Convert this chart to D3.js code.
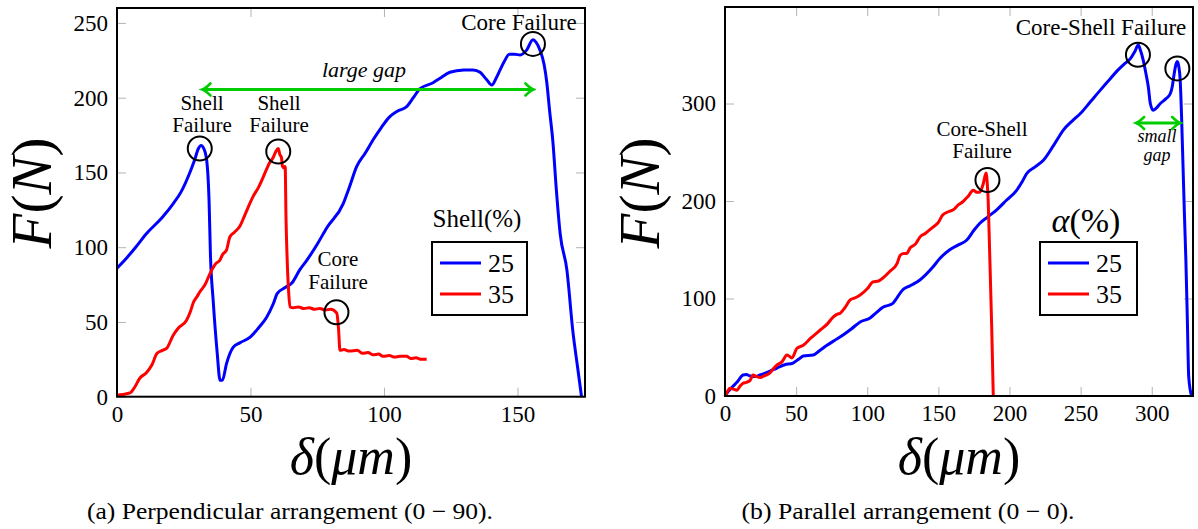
<!DOCTYPE html>
<html>
<head>
<meta charset="utf-8">
<script src="https://cdn.jsdelivr.net/npm/d3@7"></script>
<style>
body { margin: 0; background: #fff; }
text { font-family: "Liberation Serif", serif; }
</style>
</head>
<body>
<svg id="chart" width="1198" height="529"></svg>
<script>
// (a) perpendicular arrangement, Shell(%)
var perpTicksX = [0, 50, 100, 150];
var perpTicksY = [0, 50, 100, 150, 200, 250];
var perpLegend = ["25", "35"];
var perpShell25 = [[0,86],[3.7,93],[7,100],[11,109],[17,120],[21,129],[24,137],[27.3,150],[29,158],[30.5,166],[31.5,168],[32.5,166],[33.6,158],
	[34.5,130],[35,95],[36,65],[37.5,30],[38.6,11],[39.5,11],[41,22],[43.5,33],[46,36],[50,40],[53,46],[56,53],[58.5,62],[60,69],[63,73],
	[65.5,76],[68.5,85],[71,91],[75,102],[78.6,113],[84.7,129],[87,140],[89.8,154],[93,163],[96,172],[99,180],[102,187],[105,191],[108.5,194],
	[111,200],[113.5,206],[118.4,210],[121,213],[124.7,217],[130,218.5],[133.4,218.6],[136,217],[138.5,212],[140.4,208.5],[142,213],[143.5,218.6],
	[145,224],[147,229],[149,229],[151,228.6],[153.5,232],[155.8,238.7],[157,237],[158.4,232],[160,222],[161,210],[162,192],[163.3,170],
	[164.5,140],[166,109],[168.5,85],[170.8,43],[172.5,20],[174,0]];
var perpShell35 = [[0,1],[2,1.5],[4.9,2.5],[6.5,6],[8.6,12.5],[11,16],[13,21],[15,29],[17,31],[18.7,32.6],[21,41],[23,46],[26,51],[27.5,57],
	[28.6,63],[30,67],[31,70],[33,75],[35,83],[37,89],[38.6,91.5],[39.5,95],[41,98],[42.3,107],[44,110],[46,114],[48,122],[51,134],[53,140],
	[56,152],[57,156],[58.5,160],[59.5,164],[60.4,166],[61,162],[61.6,160],[62,154],[62.5,153],[63,154],[63.3,120],[63.7,94],[64.3,70],
	[64.8,60],[66,59.5],[68,60],[70,59],[72,59.5],[74,58.5],[76,59],[78,58],[80,58.5],[82.3,56],[83,45],[83.5,31],[85,31.5],[87,30.5],
	[90,31],[92,29],[94,29.5],[96,28],[98,28.5],[99.6,27],[102,27.5],[104,26.5],[106,27],[108.5,27],[110,25.5],[112,26],[114,25],[116,25]];

// (b) parallel arrangement, alpha(%)
var paraTicksX = [0, 50, 100, 150, 200, 250, 300];
var paraTicksY = [0, 100, 200, 300];
var paraLegend = ["25", "35"];
var paraAlpha25 = [[0,0],[1.4,3],[5,9],[8.4,14],[12.7,21.5],[15,22],[17.6,20.5],[21,20],[24.6,21.5],[30,24.5],[36.6,28.7],[42,32],[47.8,33.8],
	[52,38],[55,41],[62,42],[66,46],[71.7,52],[77,57],[83,62.6],[89,69],[95,76],[102,80],[106,85],[111,91],[118,95],[121,101],[125,109],
	[130,113],[137,119],[146,132],[151,141],[158,150],[164,155],[170,160],[175,170],[179,177],[185,184],[191,191],[198,201],[205,211],
	[209,220],[212,228],[218,235],[224,242],[231,257],[238,273],[244,282],[250,290],[257,302],[264,314],[270,324],[276,334],[281,341],
	[285,346],[288,353],[290.5,360],[292,355],[294,344.6],[296,330],[297.6,317],[299,300],[301,293],[303,295],[306,300],[310,305],[313,310],
	[314.5,318],[315.5,328],[317,340],[318,343],[319,338],[320,324],[321,285],[322,235],[323,185],[324,139],[325,80],[326,19.5],[328,0]];
var paraAlpha35 = [[0,0],[1.5,4],[3.5,8],[6,7],[8.4,6],[10.5,10],[12.7,13],[15,14],[17.6,16],[19.7,21.5],[22,20],[24.6,19],[28,21],[31.6,23.6],
	[34,28],[36.6,31.8],[40,35],[43.6,42],[45,41],[47,39],[50.6,49],[55,52],[60,59],[67,67.7],[72,74],[76,81],[79,84],[81,85],[84,90],
	[88,98.5],[92,101],[95,103.6],[100,110],[104,117],[108,118],[111,121],[116,128],[121,136],[123,144],[125,146],[128,146.5],[130,151.6],
	[134,156],[137,163],[141,167],[146,173],[150,178],[153,185.6],[157,189],[160.5,191],[164,196],[167,199],[171,205],[174.5,211],[177,209],
	[179,209],[181.6,218],[183.5,228.7],[184.5,215],[185,201],[186,150],[187.5,70],[188.6,0]];

var BLUE = "#0000ff", RED = "#ff0000", GREEN = "#00cc00";
var FONT = "Liberation Serif";

var svg = d3.select("#chart").attr("font-family", FONT);

// curved "to" arrow tip
var defs = svg.append("defs");
defs.append("marker")
	.attr("id", "tip")
	.attr("viewBox", "-10 -8 14 16")
	.attr("markerWidth", 14).attr("markerHeight", 16)
	.attr("markerUnits", "userSpaceOnUse")
	.attr("refX", 1).attr("refY", 0)
	.attr("orient", "auto-start-reverse")
	.append("path")
	.attr("d", "M-7,-6 Q-2,-1 1,0 Q-2,1 -7,6")
	.attr("fill", "none").attr("stroke", GREEN).attr("stroke-width", 2.6).attr("stroke-linecap", "round");

function txt( sel, size )
{
	return sel.append("text").attr("font-family", FONT).attr("font-size", size).attr("fill", "#000");
}

function drawPanel( p )
{
	var x = d3.scaleLinear().domain(p.xDomain).range([p.left, p.right]);
	var y = d3.scaleLinear().domain(p.yDomain).range([p.bottom, p.top]);
	var g = svg.append("g");

	function styleAxis(a) {
		a.select(".domain").remove();
		a.attr("font-family", FONT).attr("font-size", 23);
		a.selectAll(".tick line").attr("stroke", "#b4b4b4").attr("stroke-width", 1);
		a.selectAll("text").attr("fill", "#000");
	}

	g.append("g").attr("transform", "translate(0," + p.bottom + ")")
		.call(d3.axisBottom(x).tickValues(p.xTicks).tickSizeInner(-9).tickSizeOuter(0).tickPadding(9))
		.call(styleAxis);
	g.append("g").attr("transform", "translate(0," + p.top + ")")
		.call(d3.axisTop(x).tickValues(p.xTicks).tickSizeInner(-9).tickSizeOuter(0).tickFormat(""))
		.call(styleAxis);
	g.append("g").attr("transform", "translate(" + p.left + ",0)")
		.call(d3.axisLeft(y).tickValues(p.yTicks).tickSizeInner(-9).tickSizeOuter(0).tickPadding(9))
		.call(styleAxis);
	g.append("g").attr("transform", "translate(" + p.right + ",0)")
		.call(d3.axisRight(y).tickValues(p.yTicks).tickSizeInner(-9).tickSizeOuter(0).tickFormat(""))
		.call(styleAxis);

	var line = d3.line()
		.x(function(d) { return x(d[0]); })
		.y(function(d) { return y(d[1]); })
		.curve(d3.curveMonotoneX);

	p.series.forEach(function(s) {
		g.append("path")
			.datum(s.data)
			.attr("d", line)
			.attr("fill", "none")
			.attr("stroke", s.color)
			.attr("stroke-width", 3)
			.attr("stroke-linejoin", "round");
	});

	// frame
	g.append("rect")
		.attr("x", p.left).attr("y", p.top)
		.attr("width", p.right - p.left).attr("height", p.bottom - p.top)
		.attr("fill", "none").attr("stroke", "#000").attr("stroke-width", 2);

	// failure circles
	p.circles.forEach(function(c) {
		g.append("circle")
			.attr("cx", x(c[0])).attr("cy", y(c[1])).attr("r", 12)
			.attr("fill", "none").attr("stroke", "#000").attr("stroke-width", 2);
	});

	// notes
	p.notes.forEach(function(n) {
		var t = txt(g, n.size || 21)
			.attr("text-anchor", "middle")
			.attr("font-style", n.italic ? "italic" : "normal");
		n.lines.forEach(function(l, i) {
			t.append("tspan").attr("x", n.x).attr("y", n.y + i * (n.lh || 22)).text(l);
		});
	});

	// green gap arrow
	g.append("line")
		.attr("x1", x(p.gap[0])).attr("x2", x(p.gap[1]))
		.attr("y1", y(p.gap[2])).attr("y2", y(p.gap[2]))
		.attr("stroke", GREEN).attr("stroke-width", 3)
		.attr("marker-start", "url(#tip)").attr("marker-end", "url(#tip)");

	// axis labels
	var cx = (p.left + p.right) / 2;
	var xl = txt(g, 52).attr("x", cx).attr("y", 474).attr("text-anchor", "middle");
	xl.append("tspan").attr("font-style", "italic").text("δ");
	xl.append("tspan").text("(");
	xl.append("tspan").attr("font-style", "italic").text("μm");
	xl.append("tspan").text(")");

	var yl = txt(g, 57)
		.attr("transform", "translate(" + p.ylabelX + ",193) rotate(-90)")
		.attr("text-anchor", "middle");
	yl.append("tspan").attr("font-style", "italic").text("F");
	yl.append("tspan").text("(");
	yl.append("tspan").attr("font-style", "italic").text("N");
	yl.append("tspan").text(")");

	// legend
	var lg = g.append("g");
	var tt = txt(lg, p.legend.titleSize).attr("x", p.legend.cx).attr("y", p.legend.titleY)
		.attr("text-anchor", "middle");
	p.legend.title.forEach(function(part) {
		tt.append("tspan").attr("font-style", part[1] ? "italic" : "normal").text(part[0]);
	});
	lg.append("rect")
		.attr("x", p.legend.x).attr("y", 242).attr("width", p.legend.w).attr("height", 73)
		.attr("fill", "#fff").attr("stroke", "#000").attr("stroke-width", 2);
	p.legend.labels.forEach(function(lab, i) {
		var ly = 263 + i * 31;
		lg.append("line")
			.attr("x1", p.legend.x + 8).attr("x2", p.legend.x + 49)
			.attr("y1", ly).attr("y2", ly)
			.attr("stroke", p.series[i].color).attr("stroke-width", 3);
		txt(lg, 26).attr("x", p.legend.x + 56).attr("y", ly + 9).text(lab);
	});

	// caption
	txt(svg, 23)
		.attr("x", p.caption.x).attr("y", 519)
		.attr("text-anchor", "middle")
		.attr("textLength", p.caption.w).attr("lengthAdjust", "spacingAndGlyphs")
		.text(p.caption.text);
}

drawPanel({
	left: 117, right: 585, top: 8, bottom: 396.7,
	xDomain: [0, 175.3], yDomain: [0, 260],
	xTicks: perpTicksX, yTicks: perpTicksY,
	series: [{data: perpShell25, color: BLUE}, {data: perpShell35, color: RED}],
	circles: [[31, 166], [60.4, 164], [155.8, 236], [82.2, 56.5]],
	notes: [
		{x: 202, y: 110, lines: ["Shell", "Failure"]},
		{x: 279, y: 110, lines: ["Shell", "Failure"]},
		{x: 519, y: 30, lines: ["Core Failure"], size: 23},
		{x: 338, y: 266, lines: ["Core", "Failure"], lh: 23},
		{x: 364, y: 77, lines: ["large gap"], italic: true, size: 22}
	],
	gap: [32, 156, 205.5],
	ylabelX: 51,
	legend: {cx: 477, titleY: 227, titleSize: 25, title: [["Shell(%)", false]], x: 432, w: 95, labels: perpLegend},
	caption: {x: 290, w: 406, text: "(a) Perpendicular arrangement (0 − 90)."}
});

drawPanel({
	left: 725, right: 1193, top: 7, bottom: 396,
	xDomain: [0, 329], yDomain: [0, 399],
	xTicks: paraTicksX, yTicks: paraTicksY,
	series: [{data: paraAlpha25, color: BLUE}, {data: paraAlpha35, color: RED}],
	circles: [[290.3, 350], [318, 336], [184.5, 221.5]],
	notes: [
		{x: 1101, y: 35, lines: ["Core-Shell Failure"], size: 23},
		{x: 982, y: 136, lines: ["Core-Shell", "Failure"]},
		{x: 1157, y: 142, lines: ["small", "gap"], italic: true, size: 18, lh: 19}
	],
	gap: [289, 320, 280],
	ylabelX: 659,
	legend: {cx: 1086, titleY: 232, titleSize: 34, title: [["α", true], ["(%)", false]], x: 1040, w: 97, labels: paraLegend},
	caption: {x: 908, w: 333, text: "(b) Parallel arrangement (0 − 0)."}
});
</script>
</body>
</html>
